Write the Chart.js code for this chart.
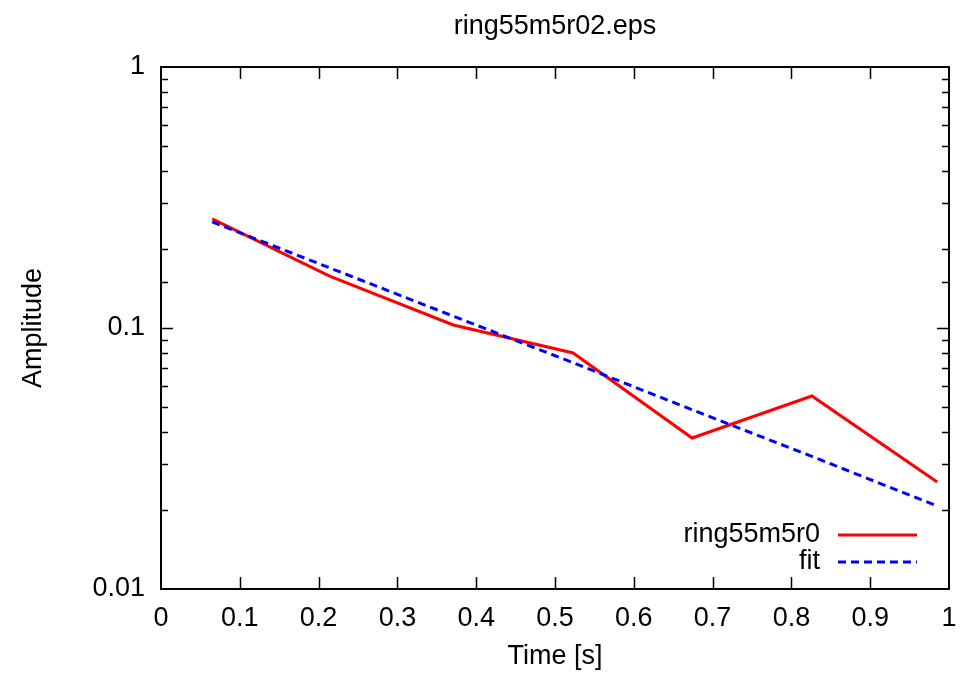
<!DOCTYPE html>
<html>
<head>
<meta charset="utf-8">
<script src="https://cdn.jsdelivr.net/npm/chart.js@4/dist/chart.umd.min.js"></script>
<style>
  html, body { margin: 0; padding: 0; background: #fff; }
  #wrap { width: 960px; height: 674px; }
</style>
</head>
<body>
<div id="wrap"><canvas id="c" width="960" height="674"></canvas></div>
<script>
// Measured ring-down amplitude and its exponential fit
const timeS      = [0.065, 0.214, 0.371, 0.523, 0.674, 0.826, 0.985];
const ringAmp    = [0.262, 0.158, 0.1027, 0.0802, 0.0379, 0.0549, 0.0257];
const fitAmp     = [0.255, 0.170, 0.111, 0.0736, 0.0486, 0.0322, 0.0208];
const seriesNames = ['ring55m5r0', 'fit'];
const xTickStep  = 0.1;
const yMajorLabels = [0.01, 0.1, 1];

const FONT = 'Liberation Sans, Arial, Helvetica, sans-serif';
const FS = 27;

function toPoints(xs, ys) { return xs.map((x, i) => ({ x: x, y: ys[i] })); }

function isDecade(v) {
  const l = Math.log10(v);
  return Math.abs(l - Math.round(l)) < 1e-6;
}

// gnuplot-style frame: inward ticks mirrored on all four sides, plus inset legend
const frameAndLegend = {
  id: 'frameAndLegend',
  afterDatasetsDraw(chart) {
    const { ctx, chartArea: a, scales: { x, y } } = chart;
    ctx.save();
    ctx.strokeStyle = '#000';
    ctx.lineWidth = 1.5;
    ctx.beginPath();
    x.ticks.forEach(t => {
      const px = Math.round(x.getPixelForValue(t.value)) + 0.5;
      if (px <= a.left + 2 || px >= a.right - 2) return;
      ctx.moveTo(px, a.bottom); ctx.lineTo(px, a.bottom - 12);
      ctx.moveTo(px, a.top);    ctx.lineTo(px, a.top + 12);
    });
    y.ticks.forEach(t => {
      const py = Math.round(y.getPixelForValue(t.value)) + 0.5;
      if (py <= a.top + 2 || py >= a.bottom - 2) return;
      const len = isDecade(t.value) ? 12 : 7;
      ctx.moveTo(a.left, py);  ctx.lineTo(a.left + len, py);
      ctx.moveTo(a.right, py); ctx.lineTo(a.right - len, py);
    });
    ctx.stroke();
    ctx.lineWidth = 2;
    ctx.strokeRect(a.left, a.top, a.right - a.left, a.bottom - a.top);

    // legend in the lower-right corner of the plot
    const textRight = a.right - 129;
    const sampleL = a.right - 111;
    const sampleR = a.right - 32;
    ctx.font = FS + 'px ' + FONT;
    ctx.textAlign = 'right';
    ctx.textBaseline = 'middle';
    chart.data.datasets.forEach((ds, i) => {
      const yy = a.bottom - 54 + i * 27;
      ctx.fillStyle = '#000';
      ctx.fillText(ds.label, textRight, yy);
      ctx.strokeStyle = ds.borderColor;
      ctx.lineWidth = ds.borderWidth;
      ctx.setLineDash(ds.borderDash || []);
      ctx.beginPath();
      ctx.moveTo(sampleL, yy); ctx.lineTo(sampleR, yy);
      ctx.stroke();
      ctx.setLineDash([]);
    });
    ctx.restore();
  }
};

new Chart(document.getElementById('c'), {
  type: 'scatter',
  data: {
    datasets: [
      {
        label: seriesNames[0],
        data: toPoints(timeS, ringAmp),
        showLine: true,
        borderColor: '#ff0000',
        borderWidth: 3,
        pointRadius: 0,
        tension: 0,
        order: 1
      },
      {
        label: seriesNames[1],
        data: toPoints(timeS, fitAmp),
        showLine: true,
        borderColor: '#0000ff',
        borderWidth: 3,
        borderDash: [8, 5],
        pointRadius: 0,
        tension: 0,
        order: 0
      }
    ]
  },
  options: {
    responsive: false,
    animation: false,
    layout: { padding: { left: 0, right: 11, top: 0, bottom: 0 } },
    plugins: {
      legend: { display: false },
      tooltip: { enabled: false },
      title: {
        display: true,
        text: 'ring55m5r02.eps',
        color: '#000',
        fullSize: false,
        font: { family: FONT, size: FS, weight: 'normal' },
        padding: { top: 10, bottom: 24.6 }
      }
    },
    scales: {
      x: {
        type: 'linear',
        min: 0,
        max: 1,
        afterFit(scale) {
          scale.height = 85;
          scale.paddingLeft = 0;
          scale.paddingRight = 0;
        },
        grid: { display: false, drawTicks: false },
        border: { display: false },
        ticks: {
          stepSize: xTickStep,
          color: '#000',
          padding: 13,
          maxRotation: 0,
          autoSkip: false,
          font: { family: FONT, size: FS },
          callback(v) { return String(Math.round(v * 10) / 10); }
        },
        title: {
          display: true,
          text: 'Time [s]',
          color: '#000',
          font: { family: FONT, size: FS },
          padding: { top: 0, bottom: 1 }
        }
      },
      y: {
        type: 'logarithmic',
        min: 0.01,
        max: 1,
        afterFit(scale) { scale.width = 161; },
        grid: { display: false, drawTicks: false },
        border: { display: false },
        ticks: {
          color: '#000',
          padding: 16,
          autoSkip: false,
          font: { family: FONT, size: FS },
          callback(v) {
            return yMajorLabels.some(m => Math.abs(m - v) / m < 1e-6) ? String(v) : '';
          }
        },
        title: {
          display: true,
          text: 'Amplitude',
          color: '#000',
          font: { family: FONT, size: FS },
          padding: { top: 17, bottom: 0 }
        }
      }
    }
  },
  plugins: [frameAndLegend]
});
</script>
</body>
</html>
